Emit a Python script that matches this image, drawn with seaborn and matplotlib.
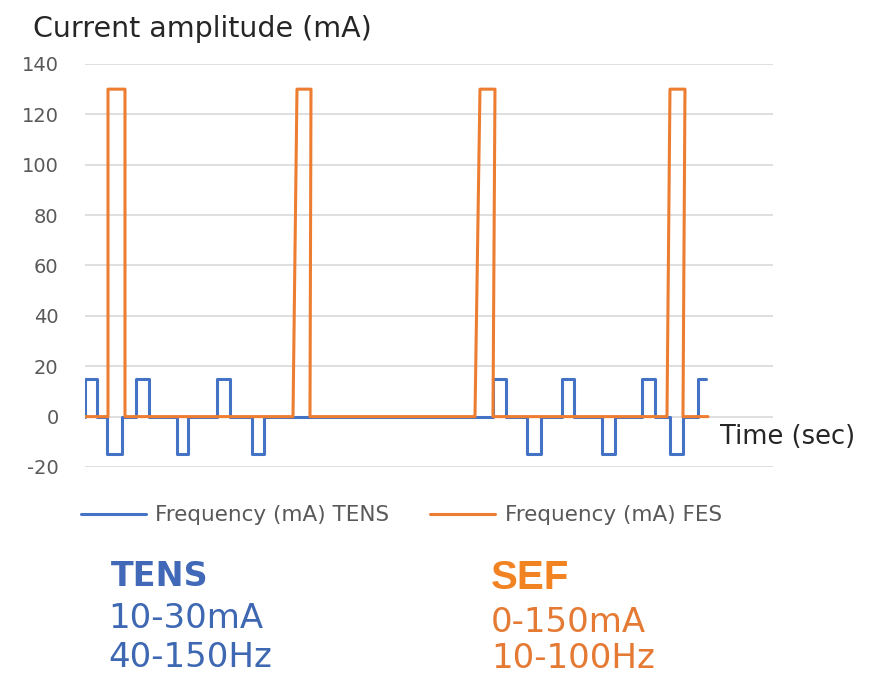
import pandas as pd
import seaborn as sns
import matplotlib.pyplot as plt

# pulse trains (time in arbitrary units, amplitude in mA)
tens_time = [0, 0, 1.2, 1.2, 2.2, 2.2, 3.7, 3.7, 5.1, 5.1, 6.4, 6.4,
             9.2, 9.2, 10.3, 10.3, 13.2, 13.2, 14.5, 14.5, 16.7, 16.7, 17.9, 17.9,
             40.8, 40.8, 42.1, 42.1, 44.2, 44.2, 45.6, 45.6, 47.7, 47.7, 48.9, 48.9,
             51.7, 51.7, 53.0, 53.0, 55.7, 55.7, 57.0, 57.0, 58.5, 58.5, 59.8, 59.8,
             61.3, 61.3, 62.1]
tens_ma = [0, 15, 15, 0, 0, -15, -15, 0, 0, 15, 15, 0,
           0, -15, -15, 0, 0, 15, 15, 0, 0, -15, -15, 0,
           0, 15, 15, 0, 0, -15, -15, 0, 0, 15, 15, 0,
           0, -15, -15, 0, 0, 15, 15, 0, 0, -15, -15, 0,
           0, 15, 15]

fes_time = [0, 2.3, 2.3, 4.0, 4.0, 20.8, 21.2, 22.6, 22.5,
            39.0, 39.5, 41.0, 40.8, 58.2, 58.5, 60.0, 59.8, 62.3]
fes_ma = [0, 0, 130, 130, 0, 0, 130, 130, 0,
          0, 130, 130, 0, 0, 130, 130, 0, 0]

y_ticks = [-20, 0, 20, 40, 60, 80, 100, 120, 140]

tens_color = "#4472C4"
fes_color = "#ED7D31"
grey = "#595959"

sns.set_theme(style="white")
plt.rcParams["font.family"] = ["DejaVu Sans"]
plt.rcParams["axes.unicode_minus"] = False

tens = pd.DataFrame({"time": tens_time, "ma": tens_ma})
fes = pd.DataFrame({"time": fes_time, "ma": fes_ma})

fig = plt.figure(figsize=(8.69, 6.77), dpi=100)
ax = fig.add_axes([0.0978, 0.3102, 0.7917, 0.5953])

sns.lineplot(data=tens, x="time", y="ma", sort=False, estimator=None,
             color=tens_color, linewidth=2.2, ax=ax, label="Frequency (mA) TENS")
sns.lineplot(data=fes, x="time", y="ma", sort=False, estimator=None,
             color=fes_color, linewidth=2.2, ax=ax, label="Frequency (mA) FES")

ax.set_xlim(0, 68.8)
ax.set_ylim(-20, 140)
ax.set_yticks(y_ticks)
ax.set_xticks([])
ax.set_xlabel("")
ax.set_ylabel("")
ax.yaxis.grid(True, color="#D9D9D9", linewidth=1.2)
ax.set_axisbelow(True)
for s in ax.spines.values():
    s.set_visible(False)
ax.tick_params(axis="y", length=0, pad=19, labelsize=14, labelcolor=grey)

handles, labels = ax.get_legend_handles_labels()
ax.get_legend().remove()
fig.legend(handles, labels, loc="center", bbox_to_anchor=(0.462, 0.239), ncol=2,
           frameon=False, handlelength=3.0, handletextpad=0.45, columnspacing=1.9,
           prop={"size": 15.5}, labelcolor=grey)

fig.text(0.038, 0.957, "Current amplitude (mA)", fontsize=20.5, color="#262626",
         ha="left", va="center")
fig.text(0.829, 0.3545, "Time (sec)", fontsize=18.5, color="#262626",
         ha="left", va="center")

fig.text(0.128, 0.148, "TENS", fontsize=24, fontweight="bold", color="#4169B8",
         ha="left", va="center")
fig.text(0.125, 0.087, "10-30mA", fontsize=24.5, color="#3F68B2",
         ha="left", va="center")
fig.text(0.125, 0.029, "40-150Hz", fontsize=24.5, color="#3F68B2",
         ha="left", va="center")

fig.text(0.565, 0.146, "SEF", fontsize=29, fontweight="bold", color="#F28322",
         family="Liberation Sans", ha="left", va="center")
fig.text(0.565, 0.080, "0-150mA", fontsize=24.5, color="#E47A34",
         ha="left", va="center")
fig.text(0.565, 0.028, "10-100Hz", fontsize=24.5, color="#E47A34",
         ha="left", va="center")

fig.savefig("out.png", dpi=100)
